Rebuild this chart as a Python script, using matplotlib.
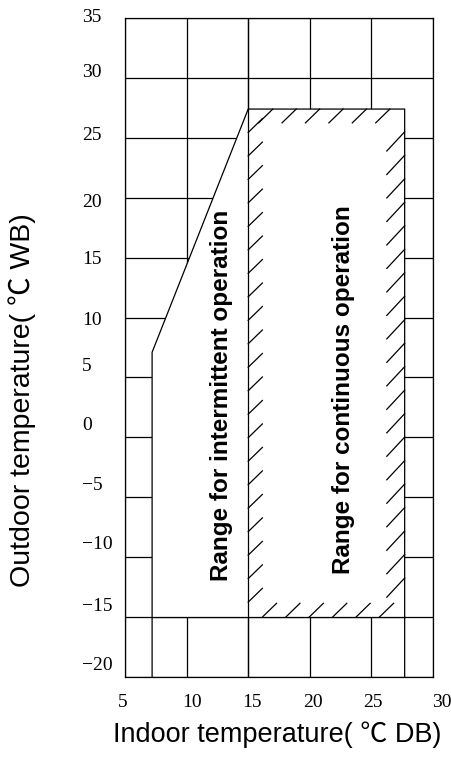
import matplotlib
matplotlib.use('Agg')
import matplotlib.pyplot as plt
import numpy as np

# axes ranges and grid
indoor_ticks = [5, 10, 15, 20, 25, 30]
outdoor_ticks = [35, 30, 25, 20, 15, 10, 5, 0, -5, -10, -15, -20]

# operating envelope (indoor DB, outdoor WB)
indoor_min = 7.2
indoor_cont_min = 15
indoor_max = 27.7
outdoor_min = -15
outdoor_max = 27.4
outdoor_knee = 7.1

# where the (scanned) tick labels sit relative to the grid
xlabel_pos = [4.84, 10.44, 15.31, 20.26, 25.13, 30.73]
ylabel_pos = [35.25, 30.66, 25.4, 19.81, 14.97, 9.96, 6.12, 1.19, -3.82, -8.74, -13.92, -18.84]

LW = 0.9

fig = plt.figure(figsize=(4.51, 7.63), dpi=100)
ax = fig.add_axes([125/451, 1 - 677/763, 308/451, 659/763])
ax.set_xlim(5, 30)
ax.set_ylim(-20, 35)

# full grid first
for v in indoor_ticks:
    ax.axvline(v, color='black', lw=LW, zorder=1)
for v in outdoor_ticks:
    ax.axhline(v, color='black', lw=LW, zorder=1)

# blank out the envelope
env_x = [indoor_min, indoor_min, indoor_cont_min, indoor_max, indoor_max]
env_y = [outdoor_min, outdoor_knee, outdoor_max, outdoor_max, outdoor_min]
ax.fill(env_x, env_y, color='white', zorder=2, lw=0)

# envelope outline
ax.plot([indoor_min, indoor_min, indoor_cont_min, indoor_max, indoor_max],
        [-20, outdoor_knee, outdoor_max, outdoor_max, -20], color='black', lw=LW, zorder=3)
ax.plot([indoor_cont_min, indoor_cont_min], [-20, 35], color='black', lw=LW, zorder=3)
ax.plot([indoor_min, indoor_max], [outdoor_min, outdoor_min], color='black', lw=LW, zorder=3)

# border hatch strokes around the continuous range
sx, sy = 1.15, 1.15
step_y, step_x = 1.96, 1.9
for y in np.arange(outdoor_min + 1.25, outdoor_max - 0.5, step_y):
    ax.plot([indoor_cont_min, indoor_cont_min + sx], [y, y + sy], color='black', lw=LW, zorder=3)
for y in np.arange(outdoor_max - 1.9, outdoor_min + 2.5, -step_y):
    ax.plot([indoor_max - 1.45, indoor_max], [y - 1.6, y], color='black', lw=LW, zorder=3)
for x in np.arange(indoor_cont_min + 2.0, indoor_max, step_x):
    ax.plot([x - sx, x], [outdoor_max - sy, outdoor_max], color='black', lw=LW, zorder=3)
for x in np.arange(indoor_cont_min + 1.15, indoor_max - 1.0, step_x):
    ax.plot([x, x + sx], [outdoor_min, outdoor_min + sy], color='black', lw=LW, zorder=3)

for s in ax.spines.values():
    s.set_linewidth(LW)
    s.set_zorder(4)

# tick labels drawn as text so the ones at the very edges survive
ax.set_xticks([])
ax.set_yticks([])
for pos, v in zip(xlabel_pos, indoor_ticks):
    ax.text(pos, -0.0253, str(v), transform=ax.get_xaxis_transform(), ha='center', va='top',
            fontsize=14, family='Liberation Serif', clip_on=False)
for pos, v in zip(ylabel_pos, outdoor_ticks):
    ax.text(-0.1396, pos, str(v).replace('-', '\u2212'), transform=ax.get_yaxis_transform(),
            ha='left', va='center_baseline', fontsize=14, family='Liberation Serif', clip_on=False)

font = ['Liberation Sans', 'Noto Sans CJK SC']
ax.text(12.87, 3.5, 'Range for intermittent operation', rotation=90, ha='center', va='center',
        fontsize=17.5, fontweight='bold', family=font, zorder=5)
ax.text(22.7, 4.0, 'Range for continuous operation', rotation=90, ha='center', va='center',
        fontsize=17.5, fontweight='bold', family=font, zorder=5)

fig.text(277/451, 1 - 735/763, 'Indoor temperature( ℃ DB)', ha='center', va='center',
         fontsize=19.5, family=font)
fig.text(22/451, 1 - 400/763, 'Outdoor temperature( ℃ WB)', rotation=90, ha='center', va='center',
         fontsize=20.5, family=font)

fig.savefig('out.png', dpi=100)
